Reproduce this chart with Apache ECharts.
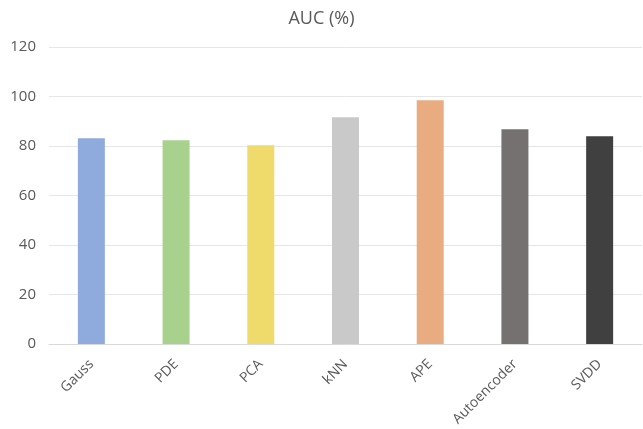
<!DOCTYPE html>
<html lang="en">
<head>
	<meta charset="UTF-8">
	<title>AUC (%)</title>
	<script src="https://cdn.jsdelivr.net/npm/echarts@6/dist/echarts.min.js"></script>
	<style>
		html, body { margin: 0; padding: 0; background: #fff; }
		#chart { width: 643px; height: 429px; }
	</style>
</head>
<body>
	<div id="chart"></div>
	<script>
		// 数据
		var categories = ['Gauss', 'PDE', 'PCA', 'kNN', 'APE', 'Autoencoder', 'SVDD'];
		var aucValues = [83.1, 82.3, 80.3, 91.6, 98.5, 86.8, 83.9];
		var barColors = ['#8faadc', '#a9d18e', '#eedb6b', '#c9c9c9', '#e8ac80', '#767171', '#404040'];
		var yTicks = [0, 20, 40, 60, 80, 100, 120];

		var textColor = '#595959';
		var font = '"Open Sans", "Liberation Sans", sans-serif';

		var myChart = echarts.init(document.getElementById('chart'));
		myChart.setOption({
			animation: false,
			title: {
				text: 'AUC (%)',
				left: 'center',
				top: 5,
				textStyle: { color: textColor, fontSize: 18, fontWeight: 'normal', fontFamily: font }
			},
			grid: { left: 49, right: 1, top: 47, bottom: 85 },
			xAxis: {
				type: 'category',
				data: categories,
				axisLine: { lineStyle: { color: '#d9d9d9', width: 1 } },
				axisTick: { show: false },
				axisLabel: {
					rotate: 45,
					interval: 0,
					margin: 18,
					color: textColor,
					fontSize: 14,
					fontFamily: font
				}
			},
			yAxis: {
				type: 'value',
				min: yTicks[0],
				max: yTicks[yTicks.length - 1],
				interval: 20,
				axisLine: { show: false },
				axisTick: { show: false },
				splitLine: { lineStyle: { color: '#e6e6e6', width: 1 } },
				axisLabel: { color: textColor, fontSize: 15, fontFamily: font, margin: 13 }
			},
			series: [{
				type: 'bar',
				barWidth: 27,
				data: aucValues.map(function (v, i) {
					return { value: v, itemStyle: { color: barColors[i] } };
				})
			}]
		});
	</script>
</body>
</html>
